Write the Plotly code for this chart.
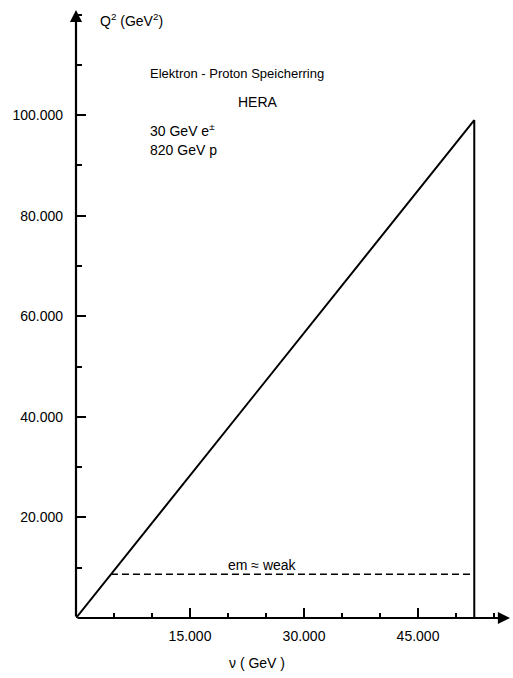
import plotly.graph_objects as go

# HERA kinematic limits: 30 GeV e± on 820 GeV p
nu_kin = [0, 52400, 52400]          # ν (GeV)
q2_kin = [0, 99000, 0]              # Q² (GeV²)

# em ≈ weak boundary
nu_emw = [4600, 52400]
q2_emw = [8700, 8700]

x_ticks = [15000, 30000, 45000]
x_ticktext = ["15.000", "30.000", "45.000"]
y_ticks = [20000, 40000, 60000, 80000, 100000]
y_ticktext = ["20.000", "40.000", "60.000", "80.000", "100.000"]

X_END = 57100
Y_END = 120900

FONT = "Liberation Sans, Arial, sans-serif"

fig = go.Figure()
fig.add_trace(go.Scatter(x=nu_kin, y=q2_kin, mode="lines",
                         line=dict(color="black", width=2), hoverinfo="skip"))
fig.add_trace(go.Scatter(x=nu_emw, y=q2_emw, mode="lines",
                         line=dict(color="black", width=1.6, dash="7px,4px"),
                         hoverinfo="skip"))

axis_common = dict(showgrid=False, zeroline=False, showline=False,
                   ticks="inside", tickcolor="black", tickwidth=1.5,
                   ticklen=10, tickfont=dict(family=FONT, size=14, color="black"))

fig.update_xaxes(range=[0, X_END], tickvals=x_ticks, ticktext=x_ticktext,
                 ticklabelstandoff=8,
                 minor=dict(ticks="inside", dtick=5000, tick0=0, ticklen=5,
                            tickcolor="black", tickwidth=1.5),
                 **axis_common)
fig.update_yaxes(range=[0, Y_END], tickvals=y_ticks, ticktext=y_ticktext,
                 ticklabelstandoff=12,
                 minor=dict(ticks="inside", dtick=10000, tick0=0, ticklen=6,
                            tickcolor="black", tickwidth=1.5),
                 **axis_common)

# axes drawn as arrows
for xe, ye in [(X_END, 0), (0, Y_END)]:
    fig.add_annotation(x=xe, y=ye, ax=0, ay=0, xref="x", yref="y",
                       axref="x", ayref="y", text="", showarrow=True,
                       arrowhead=2, arrowsize=1.1, arrowwidth=2.2,
                       arrowcolor="black")

txt = dict(family=FONT, size=14, color="black")
notes = [
    (0.05, 0.983, "Q<sup>2</sup> (GeV<sup>2</sup>)", 14, "left"),
    (0.165, 0.895, "Elektron - Proton Speicherring", 13, "left"),
    (0.42, 0.849, "HERA", 14, "center"),
    (0.165, 0.803, "30 GeV e<sup>±</sup>", 14, "left"),
    (0.165, 0.770, "820 GeV p", 14, "left"),
    (0.43, 0.087, "em ≈ weak", 14, "center"),
]
for xp, yp, t, sz, al in notes:
    fig.add_annotation(x=xp, y=yp, xref="paper", yref="paper", text=t,
                       showarrow=False, xanchor=al, yanchor="middle",
                       font=dict(family=FONT, size=sz, color="black"))

fig.add_annotation(x=0.417, y=-0.074, xref="paper", yref="paper",
                   text="ν ( GeV )", showarrow=False, xanchor="center",
                   yanchor="middle", font=txt)

fig.update_layout(width=513, height=678, showlegend=False,
                  margin=dict(l=76, r=3, t=10, b=60),
                  plot_bgcolor="white", paper_bgcolor="white")

fig.write_html("out.html")
